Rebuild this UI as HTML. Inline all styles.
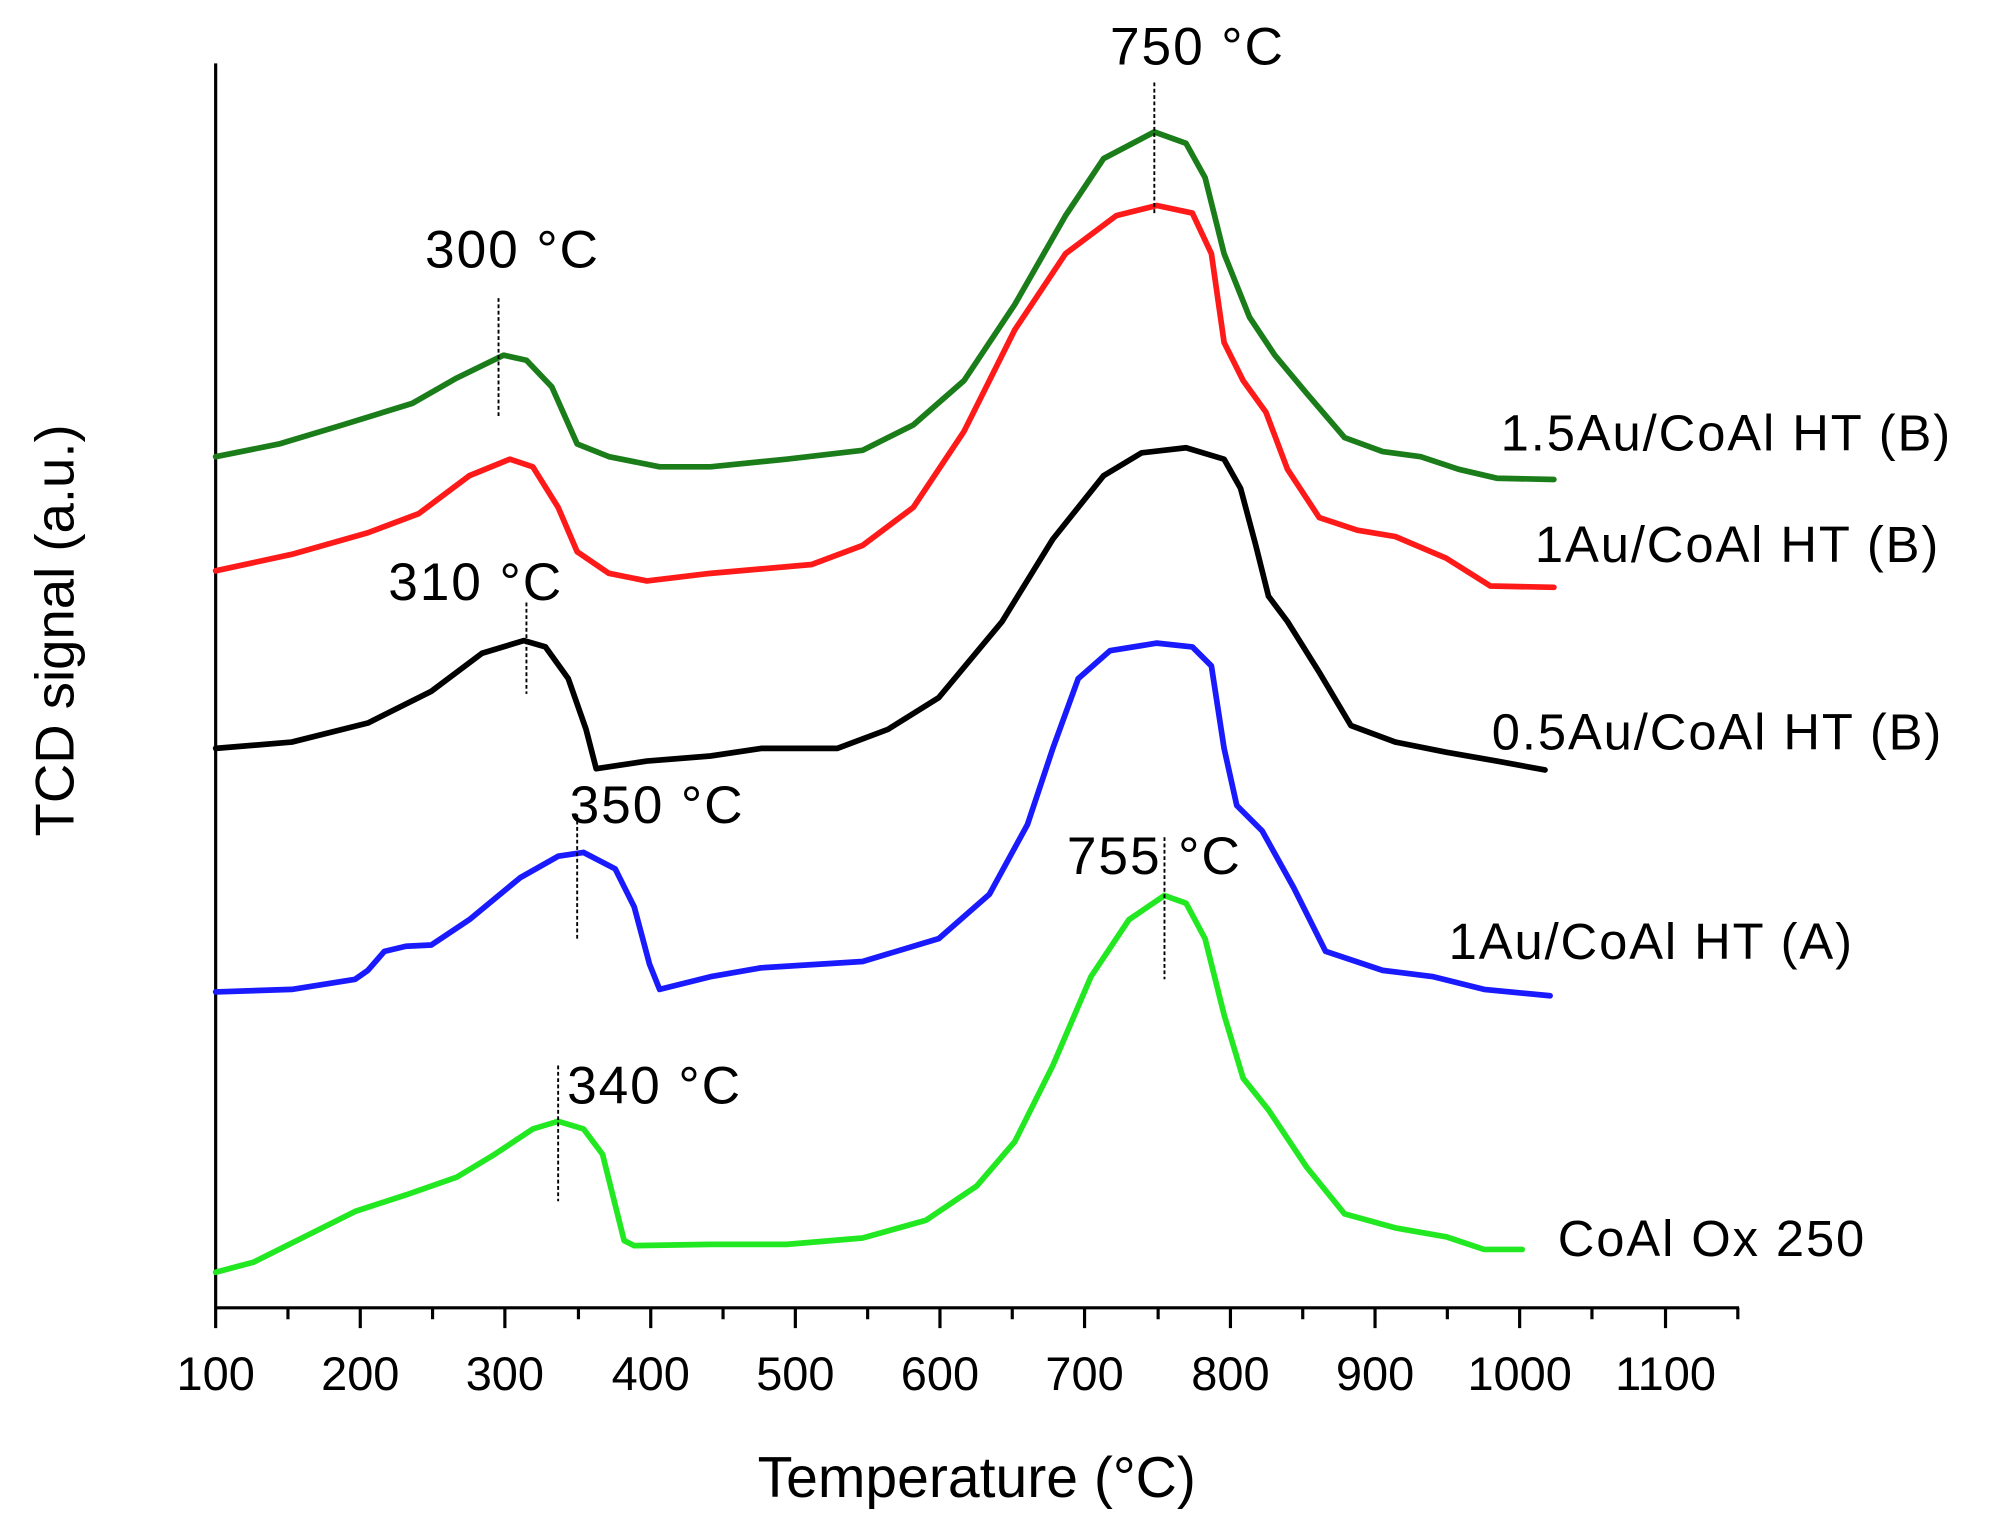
<!DOCTYPE html>
<html><head><meta charset="utf-8"><style>
html,body{margin:0;padding:0;background:#fff}
svg{display:block}
text{font-family:"Liberation Sans",sans-serif;fill:#000}
</style></head><body>
<svg width="1989" height="1528" viewBox="0 0 1568 1204.6" xmlns="http://www.w3.org/2000/svg">
<g stroke="#000" stroke-width="2.5" fill="none">
<line x1="170" y1="50" x2="170" y2="1031"/>
<line x1="169" y1="1031" x2="1371" y2="1031"/>
<path d="M170,1031v16M227,1031v9M284,1031v16M341,1031v9M398,1031v16M456,1031v9M513,1031v16M570,1031v9M627,1031v16M684,1031v9M741,1031v16M798,1031v9M855,1031v16M913,1031v9M970,1031v16M1027,1031v9M1084,1031v16M1141,1031v9M1198,1031v16M1255,1031v9M1313,1031v16M1370,1031v9"/>
</g>
<g font-size="37" text-anchor="middle">
<text x="170" y="1096">100</text><text x="284" y="1096">200</text><text x="398" y="1096">300</text><text x="513" y="1096">400</text><text x="627" y="1096">500</text><text x="741" y="1096">600</text><text x="855" y="1096">700</text><text x="970" y="1096">800</text><text x="1084" y="1096">900</text><text x="1198" y="1096">1000</text><text x="1313" y="1096">1100</text>
</g>
<text x="770" y="1180" font-size="45" text-anchor="middle">Temperature (°C)</text>
<text transform="translate(58,497) rotate(-90)" font-size="43" text-anchor="middle">TCD signal (a.u.)</text>
<g fill="none" stroke-width="4.5" stroke-linejoin="round" stroke-linecap="round">
<polyline stroke="#1a7d1a" points="170,360 220,350 270,335 325,318 360,298 397,280 415,284 435,305 455,350 480,360 520,368 560,368 620,362 680,355 720,335 760,300 800,240 840,170 870,125 910,104 935,113 950,140 965,200 985,250 1005,280 1030,310 1060,345 1090,356 1120,360 1150,370 1180,377 1225,378"/>
<polyline stroke="#ff1a1a" points="170,450 230,437 290,420 330,405 370,375 402,362 420,368 440,400 455,435 480,452 510,458 560,452 640,445 680,430 720,400 760,340 800,260 840,200 880,170 912,162 940,168 955,200 965,270 980,300 998,325 1015,370 1040,408 1070,418 1100,423 1140,440 1175,462 1225,463"/>
<polyline stroke="#000" points="170,590 230,585 290,570 340,545 380,515 413,505 430,510 448,535 462,575 470,606 510,600 560,596 600,590 660,590 700,575 740,550 790,490 830,425 870,375 900,357 935,353 965,362 978,385 990,430 1000,470 1015,490 1040,530 1065,572 1100,585 1140,593 1180,600 1218,607"/>
<polyline stroke="#1a1aff" points="170,782 230,780 280,772 290,765 303,750 320,746 340,745 370,725 410,692 440,675 460,672 485,685 500,715 512,760 520,780 560,770 600,763 680,758 740,740 780,705 810,650 830,590 850,535 875,513 912,507 940,510 955,525 965,590 975,635 995,655 1020,700 1045,750 1090,765 1130,770 1170,780 1222,785"/>
<polyline stroke="#22e822" points="170,1003 200,995 240,975 280,955 320,942 360,928 390,910 420,890 440,884 460,890 475,910 485,950 492,978 500,982 560,981 620,981 680,976 730,962 770,935 800,900 830,840 860,770 890,725 918,706 935,712 950,740 965,800 980,850 1000,875 1030,920 1060,957 1100,968 1140,975 1170,985 1200,985"/>
</g>
<g stroke="#000" stroke-width="1.5" stroke-dasharray="3,2">
<line x1="910" y1="65" x2="910" y2="170"/>
<line x1="393" y1="235" x2="393" y2="328"/>
<line x1="415" y1="475" x2="415" y2="547"/>
<line x1="455" y1="642" x2="455" y2="742"/>
<line x1="918" y1="660" x2="918" y2="772"/>
<line x1="440" y1="840" x2="440" y2="947"/>
</g>
<g font-size="42" text-anchor="middle" letter-spacing="1.5">
<text x="944" y="51">750 °C</text>
<text x="404" y="211">300 °C</text>
<text x="375" y="473">310 °C</text>
<text x="518" y="649">350 °C</text>
<text x="910" y="689">755 °C</text>
<text x="516" y="870">340 °C</text>
</g>
<g font-size="40" letter-spacing="1.5">
<text x="1183" y="355">1.5Au/CoAl HT (B)</text>
<text x="1210" y="443">1Au/CoAl HT (B)</text>
<text x="1176" y="591">0.5Au/CoAl HT (B)</text>
<text x="1142" y="756">1Au/CoAl HT (A)</text>
<text x="1228" y="990">CoAl Ox 250</text>
</g>
</svg>
</body></html>
